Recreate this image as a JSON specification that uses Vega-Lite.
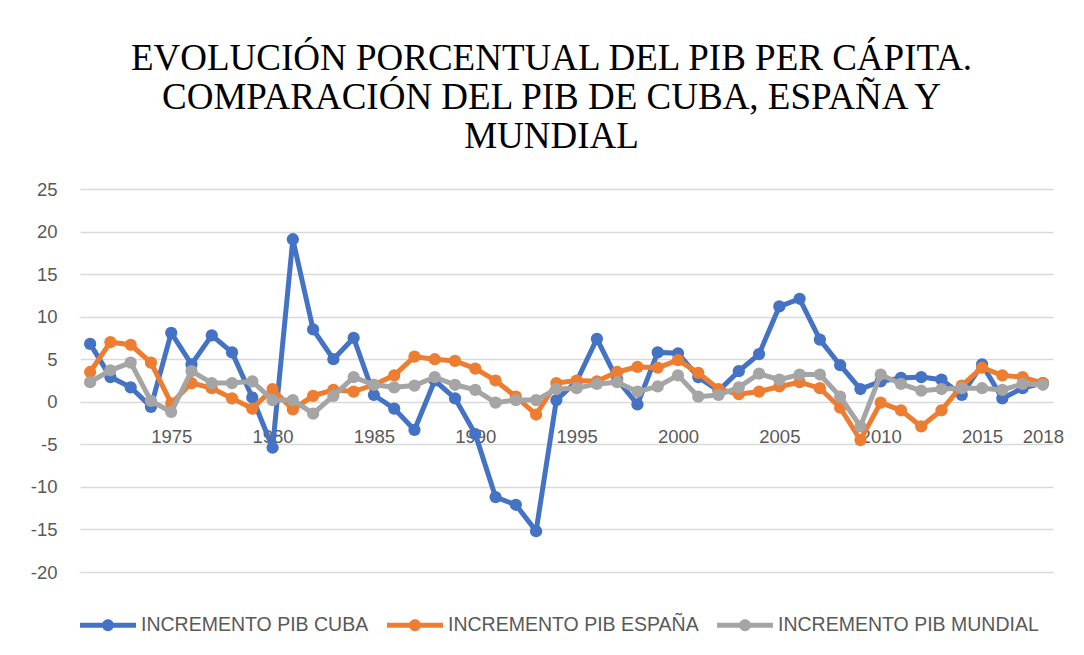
{
  "$schema": "https://vega.github.io/schema/vega-lite/v6.json",
  "width": 973,
  "height": 383,
  "autosize": {"type": "none"},
  "padding": {"left": 80, "top": 189, "right": 31, "bottom": 83},
  "background": "#ffffff",
  "title": {
    "text": ["EVOLUCIÓN PORCENTUAL DEL PIB PER CÁPITA.", "COMPARACIÓN DEL PIB DE CUBA, ESPAÑA Y", "MUNDIAL"],
    "font": "Liberation Serif",
    "fontSize": 37,
    "fontWeight": "normal",
    "color": "#000000",
    "lineHeight": 39,
    "anchor": "middle",
    "frame": "group",
    "dx": -15,
    "offset": 24
  },
  "data": {
    "values": [
      {"year": 1971, "INCREMENTO PIB CUBA": 6.8, "INCREMENTO PIB ESPAÑA": 3.5, "INCREMENTO PIB MUNDIAL": 2.3},
      {"year": 1972, "INCREMENTO PIB CUBA": 2.9, "INCREMENTO PIB ESPAÑA": 7.0, "INCREMENTO PIB MUNDIAL": 3.7},
      {"year": 1973, "INCREMENTO PIB CUBA": 1.7, "INCREMENTO PIB ESPAÑA": 6.7, "INCREMENTO PIB MUNDIAL": 4.6},
      {"year": 1974, "INCREMENTO PIB CUBA": -0.6, "INCREMENTO PIB ESPAÑA": 4.6, "INCREMENTO PIB MUNDIAL": 0.1},
      {"year": 1975, "INCREMENTO PIB CUBA": 8.1, "INCREMENTO PIB ESPAÑA": -0.2, "INCREMENTO PIB MUNDIAL": -1.2},
      {"year": 1976, "INCREMENTO PIB CUBA": 4.4, "INCREMENTO PIB ESPAÑA": 2.2, "INCREMENTO PIB MUNDIAL": 3.6},
      {"year": 1977, "INCREMENTO PIB CUBA": 7.8, "INCREMENTO PIB ESPAÑA": 1.6, "INCREMENTO PIB MUNDIAL": 2.2},
      {"year": 1978, "INCREMENTO PIB CUBA": 5.8, "INCREMENTO PIB ESPAÑA": 0.4, "INCREMENTO PIB MUNDIAL": 2.2},
      {"year": 1979, "INCREMENTO PIB CUBA": 0.5, "INCREMENTO PIB ESPAÑA": -0.8, "INCREMENTO PIB MUNDIAL": 2.4},
      {"year": 1980, "INCREMENTO PIB CUBA": -5.4, "INCREMENTO PIB ESPAÑA": 1.5, "INCREMENTO PIB MUNDIAL": 0.2},
      {"year": 1981, "INCREMENTO PIB CUBA": 19.1, "INCREMENTO PIB ESPAÑA": -0.9, "INCREMENTO PIB MUNDIAL": 0.2},
      {"year": 1982, "INCREMENTO PIB CUBA": 8.5, "INCREMENTO PIB ESPAÑA": 0.7, "INCREMENTO PIB MUNDIAL": -1.4},
      {"year": 1983, "INCREMENTO PIB CUBA": 5.0, "INCREMENTO PIB ESPAÑA": 1.4, "INCREMENTO PIB MUNDIAL": 0.7},
      {"year": 1984, "INCREMENTO PIB CUBA": 7.5, "INCREMENTO PIB ESPAÑA": 1.2, "INCREMENTO PIB MUNDIAL": 2.9},
      {"year": 1985, "INCREMENTO PIB CUBA": 0.8, "INCREMENTO PIB ESPAÑA": 2.0, "INCREMENTO PIB MUNDIAL": 2.0},
      {"year": 1986, "INCREMENTO PIB CUBA": -0.8, "INCREMENTO PIB ESPAÑA": 3.1, "INCREMENTO PIB MUNDIAL": 1.7},
      {"year": 1987, "INCREMENTO PIB CUBA": -3.3, "INCREMENTO PIB ESPAÑA": 5.3, "INCREMENTO PIB MUNDIAL": 1.9},
      {"year": 1988, "INCREMENTO PIB CUBA": 2.5, "INCREMENTO PIB ESPAÑA": 5.0, "INCREMENTO PIB MUNDIAL": 2.9},
      {"year": 1989, "INCREMENTO PIB CUBA": 0.4, "INCREMENTO PIB ESPAÑA": 4.8, "INCREMENTO PIB MUNDIAL": 2.0},
      {"year": 1990, "INCREMENTO PIB CUBA": -3.8, "INCREMENTO PIB ESPAÑA": 3.9, "INCREMENTO PIB MUNDIAL": 1.4},
      {"year": 1991, "INCREMENTO PIB CUBA": -11.2, "INCREMENTO PIB ESPAÑA": 2.5, "INCREMENTO PIB MUNDIAL": -0.1},
      {"year": 1992, "INCREMENTO PIB CUBA": -12.1, "INCREMENTO PIB ESPAÑA": 0.6, "INCREMENTO PIB MUNDIAL": 0.2},
      {"year": 1993, "INCREMENTO PIB CUBA": -15.2, "INCREMENTO PIB ESPAÑA": -1.5, "INCREMENTO PIB MUNDIAL": 0.2},
      {"year": 1994, "INCREMENTO PIB CUBA": 0.2, "INCREMENTO PIB ESPAÑA": 2.2, "INCREMENTO PIB MUNDIAL": 1.5},
      {"year": 1995, "INCREMENTO PIB CUBA": 2.4, "INCREMENTO PIB ESPAÑA": 2.5, "INCREMENTO PIB MUNDIAL": 1.6},
      {"year": 1996, "INCREMENTO PIB CUBA": 7.4, "INCREMENTO PIB ESPAÑA": 2.4, "INCREMENTO PIB MUNDIAL": 2.1},
      {"year": 1997, "INCREMENTO PIB CUBA": 2.6, "INCREMENTO PIB ESPAÑA": 3.5, "INCREMENTO PIB MUNDIAL": 2.3},
      {"year": 1998, "INCREMENTO PIB CUBA": -0.3, "INCREMENTO PIB ESPAÑA": 4.1, "INCREMENTO PIB MUNDIAL": 1.2},
      {"year": 1999, "INCREMENTO PIB CUBA": 5.8, "INCREMENTO PIB ESPAÑA": 4.0, "INCREMENTO PIB MUNDIAL": 1.8},
      {"year": 2000, "INCREMENTO PIB CUBA": 5.7, "INCREMENTO PIB ESPAÑA": 4.9, "INCREMENTO PIB MUNDIAL": 3.1},
      {"year": 2001, "INCREMENTO PIB CUBA": 2.9, "INCREMENTO PIB ESPAÑA": 3.4, "INCREMENTO PIB MUNDIAL": 0.6},
      {"year": 2002, "INCREMENTO PIB CUBA": 1.3, "INCREMENTO PIB ESPAÑA": 1.5, "INCREMENTO PIB MUNDIAL": 0.8},
      {"year": 2003, "INCREMENTO PIB CUBA": 3.6, "INCREMENTO PIB ESPAÑA": 0.9, "INCREMENTO PIB MUNDIAL": 1.7},
      {"year": 2004, "INCREMENTO PIB CUBA": 5.6, "INCREMENTO PIB ESPAÑA": 1.2, "INCREMENTO PIB MUNDIAL": 3.3},
      {"year": 2005, "INCREMENTO PIB CUBA": 11.2, "INCREMENTO PIB ESPAÑA": 1.8, "INCREMENTO PIB MUNDIAL": 2.6},
      {"year": 2006, "INCREMENTO PIB CUBA": 12.1, "INCREMENTO PIB ESPAÑA": 2.3, "INCREMENTO PIB MUNDIAL": 3.2},
      {"year": 2007, "INCREMENTO PIB CUBA": 7.3, "INCREMENTO PIB ESPAÑA": 1.6, "INCREMENTO PIB MUNDIAL": 3.2},
      {"year": 2008, "INCREMENTO PIB CUBA": 4.3, "INCREMENTO PIB ESPAÑA": -0.7, "INCREMENTO PIB MUNDIAL": 0.6},
      {"year": 2009, "INCREMENTO PIB CUBA": 1.5, "INCREMENTO PIB ESPAÑA": -4.5, "INCREMENTO PIB MUNDIAL": -2.9},
      {"year": 2010, "INCREMENTO PIB CUBA": 2.4, "INCREMENTO PIB ESPAÑA": -0.1, "INCREMENTO PIB MUNDIAL": 3.2},
      {"year": 2011, "INCREMENTO PIB CUBA": 2.8, "INCREMENTO PIB ESPAÑA": -1.0, "INCREMENTO PIB MUNDIAL": 2.1},
      {"year": 2012, "INCREMENTO PIB CUBA": 2.9, "INCREMENTO PIB ESPAÑA": -2.9, "INCREMENTO PIB MUNDIAL": 1.3},
      {"year": 2013, "INCREMENTO PIB CUBA": 2.6, "INCREMENTO PIB ESPAÑA": -1.0, "INCREMENTO PIB MUNDIAL": 1.5},
      {"year": 2014, "INCREMENTO PIB CUBA": 0.8, "INCREMENTO PIB ESPAÑA": 1.9, "INCREMENTO PIB MUNDIAL": 1.6},
      {"year": 2015, "INCREMENTO PIB CUBA": 4.4, "INCREMENTO PIB ESPAÑA": 4.0, "INCREMENTO PIB MUNDIAL": 1.6},
      {"year": 2016, "INCREMENTO PIB CUBA": 0.4, "INCREMENTO PIB ESPAÑA": 3.1, "INCREMENTO PIB MUNDIAL": 1.4},
      {"year": 2017, "INCREMENTO PIB CUBA": 1.6, "INCREMENTO PIB ESPAÑA": 2.9, "INCREMENTO PIB MUNDIAL": 2.1},
      {"year": 2018, "INCREMENTO PIB CUBA": 2.2, "INCREMENTO PIB ESPAÑA": 2.2, "INCREMENTO PIB MUNDIAL": 2.0}
    ]
  },
  "transform": [
    {"fold": ["INCREMENTO PIB CUBA", "INCREMENTO PIB ESPAÑA", "INCREMENTO PIB MUNDIAL"], "as": ["serie", "valor"]}
  ],
  "encoding": {
    "x": {
      "field": "year",
      "type": "quantitative",
      "scale": {"domain": [1970.5, 2018.5], "nice": false, "zero": false},
      "axis": {
        "title": null,
        "values": [1975, 1980, 1985, 1990, 1995, 2000, 2005, 2010, 2015, 2018],
        "labelExpr": "'' + datum.value",
        "grid": false,
        "domain": false,
        "ticks": false,
        "offset": -170.3,
        "labelPadding": 26,
        "labelFont": "Liberation Sans",
        "labelFontSize": 18.5,
        "labelColor": "#595959",
        "labelFlush": false,
        "labelOverlap": false
      }
    },
    "y": {
      "field": "valor",
      "type": "quantitative",
      "scale": {"domain": [-20, 25], "nice": false},
      "axis": {
        "title": null,
        "values": [-20, -15, -10, -5, 0, 5, 10, 15, 20, 25],
        "labelExpr": "'' + datum.value",
        "domain": false,
        "ticks": false,
        "grid": true,
        "gridColor": "#D9D9D9",
        "gridWidth": 1.5,
        "labelPadding": 23,
        "labelFont": "Liberation Sans",
        "labelFontSize": 18.5,
        "labelColor": "#595959"
      }
    },
    "color": {
      "field": "serie",
      "type": "nominal",
      "scale": {
        "domain": ["INCREMENTO PIB CUBA", "INCREMENTO PIB ESPAÑA", "INCREMENTO PIB MUNDIAL"],
        "range": ["#4472C4", "#ED7D31", "#A5A5A5"]
      },
      "legend": {
        "title": null,
        "orient": "bottom",
        "direction": "horizontal",
        "offset": 25,
        "symbolType": "M-1,-0.09L1,-0.09L1,0.09L-1,0.09Z M-0.21,0A0.21,0.21 0 1,1 0.21,0A0.21,0.21 0 1,1 -0.21,0Z",
        "symbolSize": 3136,
        "symbolStrokeWidth": 0,
        "labelFont": "Liberation Sans",
        "labelFontSize": 19.5,
        "labelColor": "#595959",
        "labelLimit": 0,
        "labelOffset": 5,
        "columnPadding": 18,
        "encode": {
          "symbols": {
            "update": {
              "fill": {"scale": "color", "field": "value"},
              "opacity": {"value": 1},
              "strokeWidth": {"value": 0}
            }
          }
        }
      }
    }
  },
  "layer": [
    {
      "transform": [{"filter": "datum.serie === 'INCREMENTO PIB CUBA'"}],
      "mark": {"type": "line", "strokeWidth": 5, "point": {"filled": true, "size": 150, "opacity": 1}}
    },
    {
      "transform": [{"filter": "datum.serie === 'INCREMENTO PIB ESPAÑA'"}],
      "mark": {"type": "line", "strokeWidth": 5, "point": {"filled": true, "size": 150, "opacity": 1}}
    },
    {
      "transform": [{"filter": "datum.serie === 'INCREMENTO PIB MUNDIAL'"}],
      "mark": {"type": "line", "strokeWidth": 5, "point": {"filled": true, "size": 150, "opacity": 1}}
    }
  ],
  "config": {
    "view": {"stroke": null}
  }
}
